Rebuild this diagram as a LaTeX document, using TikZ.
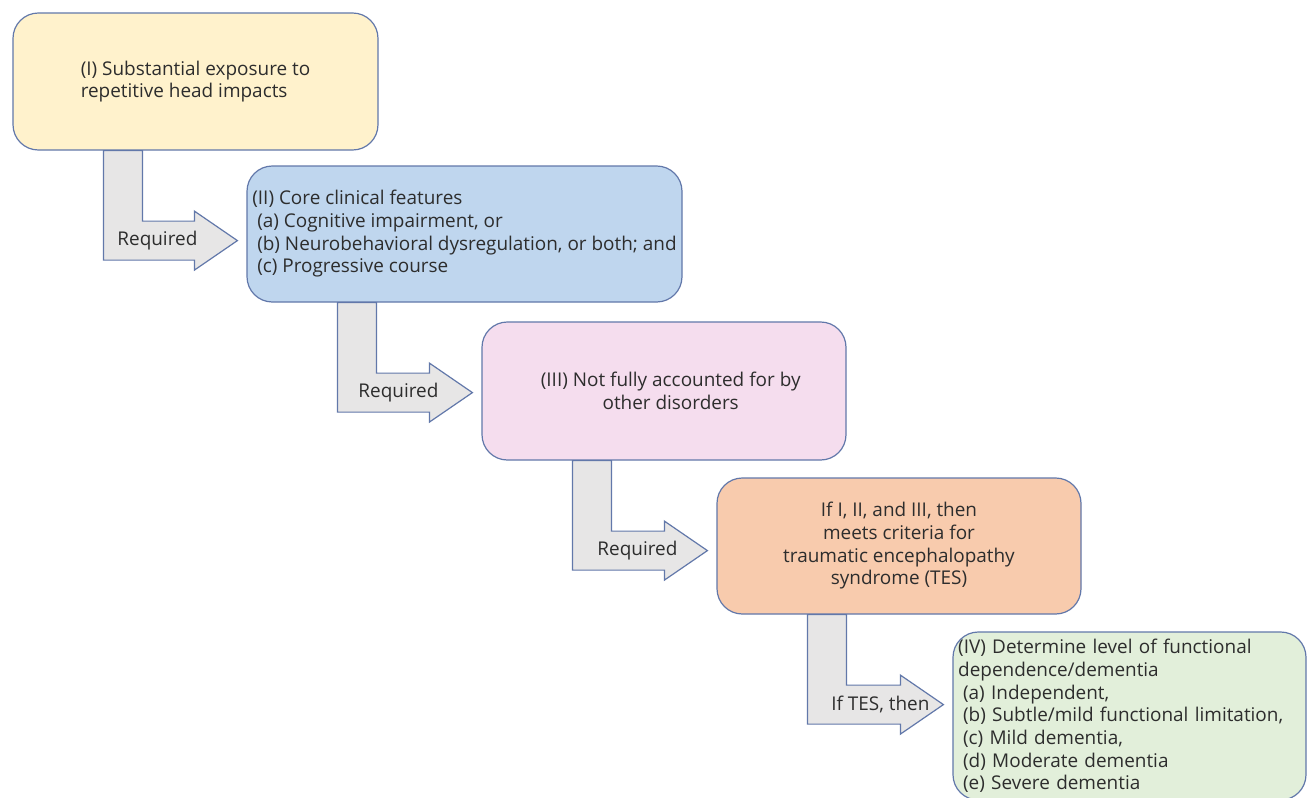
\documentclass[tikz,border=0pt]{standalone}
\usepackage{fontspec}
\setmainfont{Open Sans}
\usetikzlibrary{calc}

\definecolor{edgeblue}{RGB}{98,120,170}
\definecolor{textgray}{RGB}{45,45,45}
\definecolor{arrowgray}{RGB}{231,230,230}
\definecolor{critIfill}{RGB}{255,242,204}
\definecolor{critIIfill}{RGB}{191,214,238}
\definecolor{critIIIfill}{RGB}{245,221,238}
\definecolor{tesfill}{RGB}{248,203,173}
\definecolor{levelfill}{RGB}{226,239,218}

\begin{document}
\begin{tikzpicture}[x=0.75pt,y=-0.75pt,
    box/.style={draw=edgeblue, line width=0.9pt, rounded corners=19pt, inner sep=3pt,
      text=textgray, font=\fontsize{14.2}{17}\selectfont},
    arrowbox/.style={draw=edgeblue, line width=0.9pt, fill=arrowgray, line join=miter},
    arrowlabel/.style={text=textgray, inner sep=0pt, font=\fontsize{14.2}{17}\selectfont}]
        % Rozmer obrazku
        \useasboundingbox (0,0) rectangle (1307,797);
        \fill[white] (0,0) rectangle (1307,797);
        \clip (0,0) rectangle (1307,797);

        % Kriteria
        \node[box, fill=critIfill, minimum width=273.75pt, minimum height=102.75pt, align=left]
          (crit1) at (195.5,81.5) {(I) Substantial exposure to\\repetitive head impacts};
        \node[box, fill=critIIfill, minimum width=326.25pt, minimum height=102pt, inner sep=1pt,
          align=left]
          (crit2) at (464.5,234) {(II) Core clinical features\\
            \hspace*{0.26em}(a) Cognitive impairment, or\\
            \hspace*{0.26em}(b) Neurobehavioral dysregulation, or both; and\\
            \hspace*{0.26em}(c) Progressive course};
        \node[box, fill=critIIIfill, minimum width=273pt, minimum height=103.5pt, align=center]
          (crit3) at (664,391) {\hspace*{10pt}(III) Not fully accounted for by\\\hspace*{10pt}other disorders};
        \node[box, fill=tesfill, minimum width=273pt, minimum height=102pt, align=center]
          (tes) at (899,546) {If I, II, and III, then\\meets criteria for\\traumatic encephalopathy\\syndrome (TES)};
        \node[box, fill=levelfill, minimum width=264.75pt, minimum height=126pt,
          inner sep=3.75pt, text width=257pt, align=left]
          (level) at (1129.5,716) {(IV) Determine level of functional\\dependence/dementia\\
            \hspace*{0.26em}(a) Independent,\\
            \hspace*{0.26em}(b) Subtle/mild functional limitation,\\
            \hspace*{0.26em}(c) Mild dementia,\\
            \hspace*{0.26em}(d) Moderate dementia\\
            \hspace*{0.26em}(e) Severe dementia};

        % Lomene sipky mezi kriterii
        \foreach \from/\to/\txt/\dx in {crit1/crit2/Required/54, crit2/crit3/Required/61,
            crit3/tes/Required/65, tes/level/{If TES, then}/73} {
          \coordinate (p) at ($(\from.south west)+(91,0)$);
          \coordinate (tip) at ($(\to.west |- \from.south)+(-9,90)$);
          \draw[arrowbox] (p) -- ++(0,109.5) -- ($(tip)+(-43,19.5)$) -- ++(0,10) -- (tip)
            -- ($(tip)+(-43,-29.5)$) -- ++(0,10) -- ($(p)+(39,70.5)$) -- ++(0,-70.5) -- cycle;
          \node[arrowlabel] (\to-lbl) at ($(p)+(\dx,90)$) {\txt};
        }
      \end{tikzpicture}
\end{document}
